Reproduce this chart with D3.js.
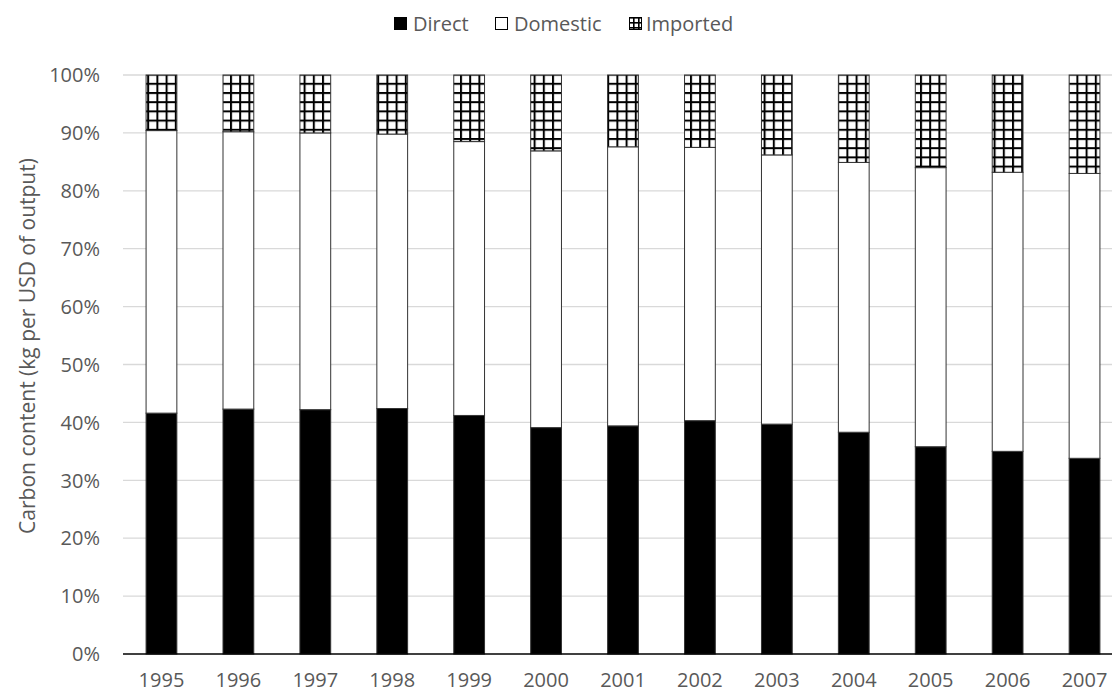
<!DOCTYPE html>
<html>
<head>
<meta charset="utf-8">
<script src="https://cdn.jsdelivr.net/npm/d3@7"></script>
<style>
  html, body { margin: 0; padding: 0; background: #fff; }
  svg { display: block; }
  text { font-family: "Open Sans", sans-serif; }
</style>
</head>
<body>
<svg id="chart" width="1112" height="693"></svg>
<script>
const years = ["1995","1996","1997","1998","1999","2000","2001","2002","2003","2004","2005","2006","2007"];
const direct   = [41.6, 42.3, 42.2, 42.4, 41.2, 39.1, 39.4, 40.3, 39.7, 38.3, 35.8, 35.0, 33.8];
const domestic = [48.8, 47.9, 47.8, 47.4, 47.3, 47.8, 48.2, 47.2, 46.5, 46.6, 48.2, 48.2, 49.2];
const imported = [9.6, 9.8, 10.0, 10.2, 11.5, 13.1, 12.4, 12.5, 13.8, 15.1, 16.0, 16.8, 17.0];
const seriesNames = ["Direct", "Domestic", "Imported"];
const yTicks = [0, 10, 20, 30, 40, 50, 60, 70, 80, 90, 100];

const svg = d3.select("#chart");
const plotLeft = 123, plotW = 1000, plotTop = 75, plotBottom = 654;

const defs = svg.append("defs");
const pat = defs.append("pattern")
  .attr("id", "grid").attr("patternUnits", "userSpaceOnUse")
  .attr("width", 9.2).attr("height", 9.2).attr("x", 0).attr("y", 0);
pat.append("rect").attr("width", 9.2).attr("height", 9.2).attr("fill", "#fff");
pat.append("rect").attr("x", 0).attr("y", 0).attr("width", 9.2).attr("height", 2).attr("fill", "#000");
pat.append("rect").attr("x", 0).attr("y", 0).attr("width", 2).attr("height", 9.2).attr("fill", "#000");

const pat2 = defs.append("pattern")
  .attr("id", "gridSmall").attr("patternUnits", "userSpaceOnUse")
  .attr("width", 5).attr("height", 5).attr("x", 628).attr("y", 17);
pat2.append("rect").attr("width", 5).attr("height", 5).attr("fill", "#fff");
pat2.append("rect").attr("width", 5).attr("height", 1.6).attr("fill", "#000");
pat2.append("rect").attr("width", 1.6).attr("height", 5).attr("fill", "#000");

const x = d3.scaleBand().domain(years).range([plotLeft, plotLeft + plotW])
  .paddingInner(0.6).paddingOuter(0.3);
const y = d3.scaleLinear().domain([0, 100]).range([plotBottom, plotTop]);

// gridlines
svg.append("g").selectAll("line").data(yTicks.filter(d => d > 0)).join("line")
  .attr("x1", plotLeft).attr("x2", 1112)
  .attr("y1", d => y(d)).attr("y2", d => y(d))
  .attr("stroke", "#d9d9d9").attr("stroke-width", 1.3);

// y tick labels
svg.append("g").selectAll("text").data(yTicks).join("text")
  .attr("x", 100).attr("y", d => y(d)).attr("dy", "0.36em")
  .attr("text-anchor", "end").attr("fill", "#595959")
  .style("font-size", "20px")
  .text(d => d + "%");

// stacked bars
const table = years.map((yr, i) => ({ year: yr, Direct: direct[i], Domestic: domestic[i], Imported: imported[i] }));
const stack = d3.stack().keys(seriesNames)(table);
const fills = { Direct: "#000", Domestic: "#fff", Imported: "url(#grid)" };

svg.append("g").selectAll("g").data(stack).join("g")
  .attr("fill", d => fills[d.key])
  .selectAll("rect").data(d => d).join("rect")
  .attr("x", d => x(d.data.year))
  .attr("width", x.bandwidth())
  .attr("y", d => y(Math.min(d[1], 100)))
  .attr("height", d => y(d[0]) - y(Math.min(d[1], 100)))
  .attr("stroke", "#333").attr("stroke-width", 1);

// x axis line
svg.append("line").attr("x1", plotLeft).attr("x2", 1112)
  .attr("y1", plotBottom).attr("y2", plotBottom)
  .attr("stroke", "#000").attr("stroke-width", 1.3);

// x labels
svg.append("g").selectAll("text").data(years).join("text")
  .attr("x", d => x(d) + x.bandwidth() / 2).attr("y", 687)
  .attr("text-anchor", "middle").attr("fill", "#595959")
  .style("font-size", "20px")
  .text(d => d);

// y axis title
svg.append("text")
  .attr("transform", "translate(35,346) rotate(-90)")
  .attr("text-anchor", "middle").attr("fill", "#595959")
  .style("font-size", "21px")
  .text("Carbon content (kg per USD of output)");

// legend
const legendFills = { Direct: "#000", Domestic: "#fff", Imported: "url(#gridSmall)" };
const legendItems = [
  { name: "Direct", x: 394.5, tx: 413 },
  { name: "Domestic", x: 495.5, tx: 514 },
  { name: "Imported", x: 629.5, tx: 646 }
];
const lg = svg.append("g");
legendItems.forEach(it => {
  lg.append("rect").attr("x", it.x).attr("y", 17.5).attr("width", 12).attr("height", 12)
    .attr("fill", legendFills[it.name]).attr("stroke", "#000").attr("stroke-width", 1);
  lg.append("text").attr("x", it.tx).attr("y", 31)
    .attr("fill", "#595959").style("font-size", "20px").text(it.name);
});
</script>
</body>
</html>
